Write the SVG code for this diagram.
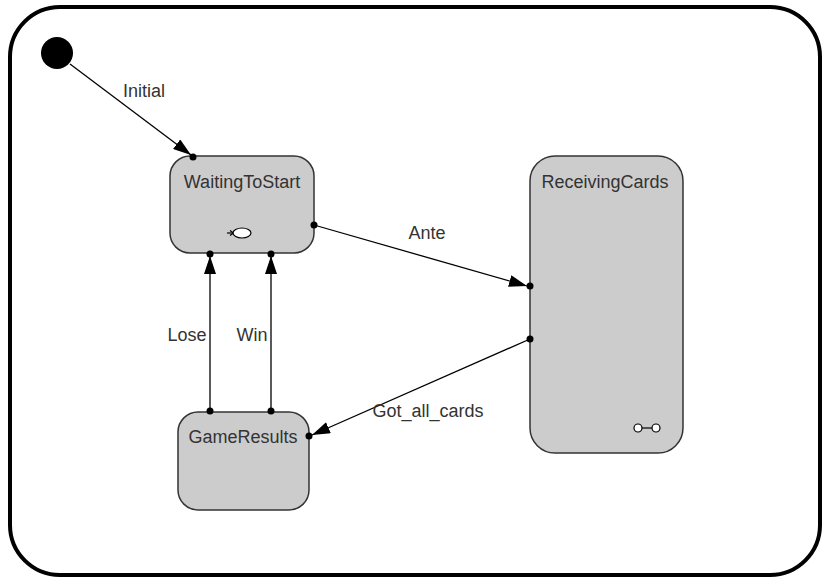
<svg xmlns="http://www.w3.org/2000/svg" width="824" height="579" viewBox="0 0 824 579">
<defs>
<style>
.frame{fill:#fff;stroke:#000;stroke-width:4}
.node{fill:#cccccc;stroke:#333;stroke-width:1.5}
.lbl{font-family:"Liberation Sans",Arial,sans-serif;font-size:18px;fill:#333;text-anchor:middle}
.edge{stroke:#000;stroke-width:1.3;fill:none}
.dot{fill:#000}
</style>
<marker id="ah" viewBox="0 0 18 12" refX="18" refY="6" markerWidth="18" markerHeight="12" markerUnits="userSpaceOnUse" orient="auto">
<path d="M0,0 L18,6 L0,12 z" fill="#000"/>
</marker>
</defs>
<rect width="824" height="579" fill="#fff"/>
<rect class="frame" x="10" y="7" width="810" height="568" rx="50" ry="50"/>

<g id="initial">
<circle cx="57" cy="53" r="16" fill="#000"/>
</g>

<g id="WaitingToStart">
<rect class="node" x="170" y="156" width="144" height="97" rx="20" ry="20"/>
<text class="lbl" x="242" y="188">WaitingToStart</text>
<line x1="227" y1="233" x2="233" y2="233" stroke="#000" stroke-width="1.2"/>
<path d="M230,230.5 L233.5,233 L230,235.5" fill="none" stroke="#000" stroke-width="1.2"/>
<ellipse cx="242" cy="233" rx="9" ry="5" fill="#fff" stroke="#000" stroke-width="1.2"/>
</g>

<g id="ReceivingCards">
<rect class="node" x="530" y="156" width="153" height="297" rx="25" ry="25"/>
<text class="lbl" x="605" y="188">ReceivingCards</text>
<line x1="638" y1="428" x2="656" y2="428" stroke="#000" stroke-width="1.2"/>
<circle cx="638" cy="428" r="4" fill="#fff" stroke="#000" stroke-width="1.2"/>
<circle cx="656" cy="428" r="4" fill="#fff" stroke="#000" stroke-width="1.2"/>
</g>

<g id="GameResults">
<rect class="node" x="178" y="412" width="131" height="98" rx="20" ry="20"/>
<text class="lbl" x="243" y="443">GameResults</text>
</g>

<g id="connectors">
<line class="edge" x1="70" y1="64" x2="191" y2="155" marker-end="url(#ah)"/>
<circle class="dot" cx="193" cy="157" r="3.5"/>
<text class="lbl" x="144" y="97">Initial</text>

<circle class="dot" cx="314" cy="225" r="3.5"/>
<line class="edge" x1="314" y1="225" x2="527" y2="286" marker-end="url(#ah)"/>
<circle class="dot" cx="530" cy="286" r="3.5"/>
<text class="lbl" x="427" y="239">Ante</text>

<circle class="dot" cx="530" cy="339" r="3.5"/>
<line class="edge" x1="530" y1="339" x2="312" y2="435" marker-end="url(#ah)"/>
<circle class="dot" cx="309" cy="436" r="3.5"/>
<text class="lbl" x="428" y="417">Got_all_cards</text>

<circle class="dot" cx="210" cy="411" r="3.5"/>
<line class="edge" x1="210" y1="411" x2="210" y2="256" marker-end="url(#ah)"/>
<circle class="dot" cx="210" cy="254" r="3.5"/>
<text class="lbl" x="187" y="341">Lose</text>

<circle class="dot" cx="271" cy="411" r="3.5"/>
<line class="edge" x1="271" y1="411" x2="271" y2="256" marker-end="url(#ah)"/>
<circle class="dot" cx="271" cy="254" r="3.5"/>
<text class="lbl" x="252" y="341">Win</text>
</g>
</svg>
